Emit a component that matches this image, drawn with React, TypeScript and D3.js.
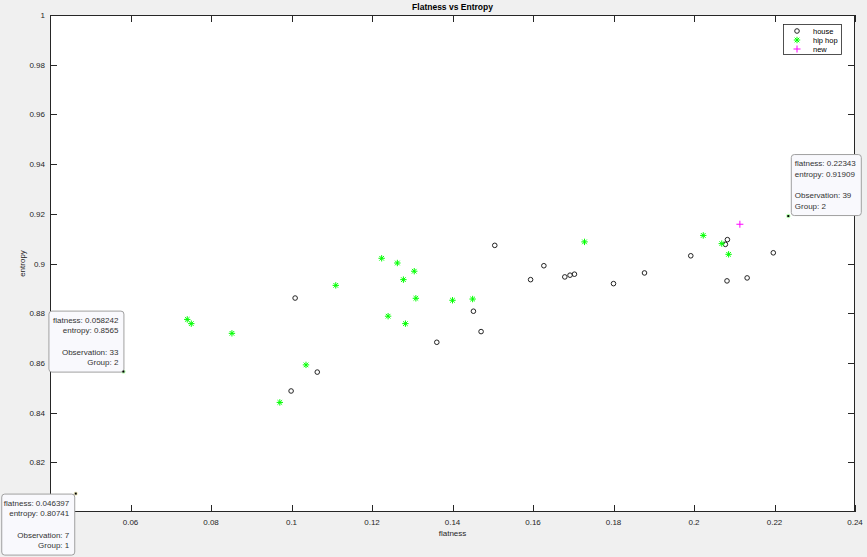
import React from "react";
import * as d3 from "d3";

const W = 867;
const H = 557;
const M = { left: 50, right: 12, top: 15, bottom: 45 };

const houseFlatness = [0.1009, 0.1064, 0.0999, 0.1505, 0.1594, 0.1452, 0.1471, 0.1361, 0.1627, 0.1679, 0.1692, 0.1703, 0.18, 0.1877, 0.1992, 0.2083, 0.2078, 0.2082, 0.2132, 0.2197, 0.046397];
const houseEntropy = [0.8861, 0.8563, 0.8487, 0.9073, 0.8935, 0.8808, 0.8726, 0.8683, 0.8991, 0.8946, 0.8953, 0.8957, 0.8919, 0.8962, 0.9031, 0.9096, 0.9077, 0.893, 0.8942, 0.9043, 0.80741];

const hipFlatness = [0.111, 0.0741, 0.0751, 0.0852, 0.1036, 0.0971, 0.1224, 0.1263, 0.1305, 0.1278, 0.1309, 0.14, 0.145, 0.124, 0.1283, 0.1728, 0.2023, 0.2069, 0.2086, 0.058242, 0.22343];
const hipEntropy = [0.8912, 0.8775, 0.8758, 0.8719, 0.8592, 0.8441, 0.9021, 0.9002, 0.8969, 0.8935, 0.886, 0.8852, 0.8857, 0.8788, 0.8758, 0.9087, 0.9113, 0.908, 0.9037, 0.8565, 0.91909];

const newFlatness = [0.2114];
const newEntropy = [0.9158];

const xTicks = [0.06, 0.08, 0.1, 0.12, 0.14, 0.16, 0.18, 0.2, 0.22, 0.24];
const yTicks = [0.82, 0.84, 0.86, 0.88, 0.9, 0.92, 0.94, 0.96, 0.98, 1];

const legendLabels = ["house", "hip hop", "new"];

type Tip = { fx: number; fy: number; obs: number; group: number; side: "ul" | "dl" | "ur" };
const tips: Tip[] = [
  { fx: 0.058242, fy: 0.8565, obs: 33, group: 2, side: "ul" },
  { fx: 0.046397, fy: 0.80741, obs: 7, group: 1, side: "dl" },
  { fx: 0.22343, fy: 0.91909, obs: 39, group: 2, side: "ur" },
];

const FONT = "'Liberation Sans', Arial, Helvetica, sans-serif";
const TXT = "#262626";

const Circle = ({ x, y }: { x: number; y: number }) => (
  <circle cx={x} cy={y} r={2.3} fill="none" stroke="#222" strokeWidth={1} />
);
const Star = ({ x, y }: { x: number; y: number }) => {
  const s = 3.2;
  const d = 2.3;
  return (
    <g stroke="#00ff00" strokeWidth={1}>
      <line x1={x - s} y1={y} x2={x + s} y2={y} />
      <line x1={x} y1={y - s} x2={x} y2={y + s} />
      <line x1={x - d} y1={y - d} x2={x + d} y2={y + d} />
      <line x1={x - d} y1={y + d} x2={x + d} y2={y - d} />
    </g>
  );
};
const Plus = ({ x, y }: { x: number; y: number }) => {
  const s = 3.5;
  return (
    <g stroke="#ff00ff" strokeWidth={1}>
      <line x1={x - s} y1={y} x2={x + s} y2={y} />
      <line x1={x} y1={y - s} x2={x} y2={y + s} />
    </g>
  );
};

export default function App() {
  const x = d3.scaleLinear().domain([0.04, 0.24]).range([M.left, W - M.right]);
  const y = d3.scaleLinear().domain([0.8, 1]).range([H - M.bottom, M.top]);
  const x0 = M.left, x1 = W - M.right, y0 = M.top, y1 = H - M.bottom;
  const tl = 7;
  const fmtX = (v: number) => d3.format("")(+v.toFixed(2));

  return (
    <svg width={W} height={H} style={{ position: "absolute", left: 0, top: 0, fontFamily: FONT }}>
      <rect x={0} y={0} width={W} height={H} fill="#f0f0f0" />
      <rect x={x0} y={y0} width={x1 - x0} height={y1 - y0} fill="#ffffff" />

      {/* ticks */}
      <g stroke="#262626" strokeWidth={1}>
        {xTicks.map((t) => (
          <g key={"xt" + t}>
            <line x1={Math.round(x(t)) + 0.5} x2={Math.round(x(t)) + 0.5} y1={y1} y2={y1 - tl} />
            <line x1={Math.round(x(t)) + 0.5} x2={Math.round(x(t)) + 0.5} y1={y0} y2={y0 + tl} />
          </g>
        ))}
        {yTicks.map((t) => (
          <g key={"yt" + t}>
            <line x1={x0} x2={x0 + tl} y1={Math.round(y(t)) + 0.5} y2={Math.round(y(t)) + 0.5} />
            <line x1={x1} x2={x1 - tl} y1={Math.round(y(t)) + 0.5} y2={Math.round(y(t)) + 0.5} />
          </g>
        ))}
      </g>
      <rect x={x0 + 0.5} y={y0 + 0.5} width={x1 - x0 - 1} height={y1 - y0 - 1} fill="none" stroke="#262626" strokeWidth={1} />

      {/* tick labels */}
      <g fontSize={8} fill={TXT}>
        {xTicks.map((t) => (
          <text key={"xl" + t} x={x(t)} y={y1 + 12.5} textAnchor="middle">{fmtX(t)}</text>
        ))}
        {yTicks.map((t) => (
          <text key={"yl" + t} x={x0 - 5} y={y(t) + 3} textAnchor="end">{fmtX(t)}</text>
        ))}
      </g>

      {/* axis labels & title */}
      <text x={(x0 + x1) / 2} y={y1 + 24} textAnchor="middle" fontSize={8} fill={TXT}>flatness</text>
      <text transform={`translate(${x0 - 25},${(y0 + y1) / 2}) rotate(-90)`} textAnchor="middle" fontSize={8} fill={TXT}>entropy</text>
      <text x={(x0 + x1) / 2} y={10} textAnchor="middle" fontSize={8.5} fontWeight="bold" fill="#000">Flatness vs Entropy</text>

      {/* data */}
      {houseFlatness.map((v, i) => (
        <Circle key={"h" + i} x={x(v)} y={y(houseEntropy[i])} />
      ))}
      {hipFlatness.map((v, i) => (
        <Star key={"p" + i} x={x(v)} y={y(hipEntropy[i])} />
      ))}
      {newFlatness.map((v, i) => (
        <Plus key={"n" + i} x={x(v)} y={y(newEntropy[i])} />
      ))}

      {/* data tips */}
      {tips.map((tp, i) => {
        const px = x(tp.fx), py = y(tp.fy);
        const bw = tp.side === "dl" ? 73 : tp.side === "ur" ? 70 : 75;
        const bh = 61;
        let bx = 0, by = 0;
        if (tp.side === "ul") { bx = px - bw; by = py - bh; }
        else if (tp.side === "dl") { bx = px - bw - 1.5; by = py; }
        else { bx = px + 2.5; by = py - bh - 1; }
        const right = tp.side !== "ur";
        const tx = right ? bx + bw - 5 : bx + 4;
        const lines = [
          `flatness: ${tp.fx}`,
          `entropy: ${tp.fy}`,
          "",
          `Observation: ${tp.obs}`,
          `Group: ${tp.group}`,
        ];
        const offs = [12, 22.5, 0, 44, 54.5];
        const halo = tp.group === 1 ? "#f4f0c8" : "#b8ffb0";
        return (
          <g key={"tip" + i}>
            <circle cx={px} cy={py} r={3.8} fill={tp.group === 1 ? "#ffffff" : "#ffffff"} />
            <circle cx={px} cy={py} r={2.2} fill={halo} />
            <rect x={bx + 0.5} y={by + 0.5} width={bw} height={bh} rx={3} fill="#f9f9fd" stroke="#a0a0a0" strokeWidth={1} />
            {lines.map((l, j) =>
              l ? (
                <text key={j} x={tx} y={by + offs[j]} fontSize={8} fill="#333" textAnchor={right ? "end" : "start"}>{l}</text>
              ) : null
            )}
            <rect x={px - 1} y={py - 1} width={2} height={2} fill="#000" />
          </g>
        );
      })}

      {/* legend */}
      <g>
        <rect x={783.5} y={24.5} width={58} height={30} fill="#fff" stroke="#262626" strokeWidth={0.8} />
        <Circle x={797} y={31} />
        <Star x={797} y={40} />
        <Plus x={797} y={49} />
        {legendLabels.map((l, i) => (
          <text key={l} x={813} y={34 + i * 9} fontSize={7.5} fill="#000">{l}</text>
        ))}
      </g>
    </svg>
  );
}
